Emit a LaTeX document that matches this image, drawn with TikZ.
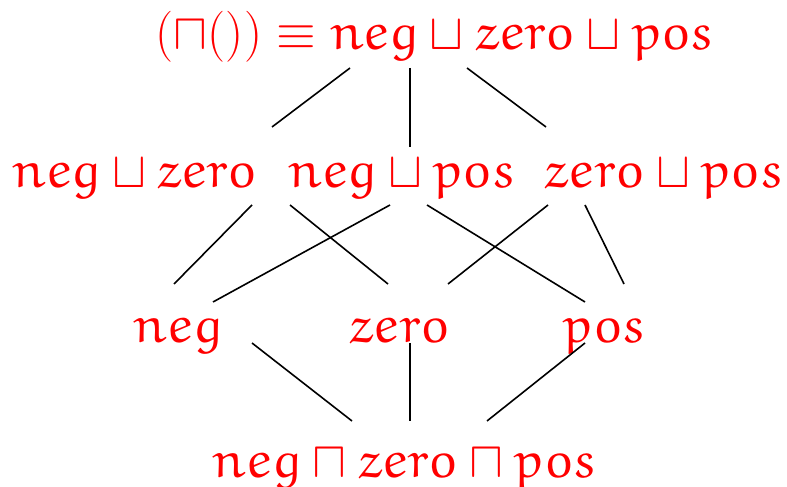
\RequirePackage{fix-cm}
\documentclass[tikz,border=0pt]{standalone}
\usepackage{amsmath}
\usepackage{amssymb}
\usepackage{tikz}
\usetikzlibrary{calc}
\DeclareMathAlphabet{\mathew}{U}{eur}{m}{n}
\newcommand{\lneg}{\mathew{neg}}
\newcommand{\lzero}{\mathew{zero}}
\newcommand{\lpos}{\mathew{pos}}

\begin{document}
\begin{tikzpicture}[
    x=1pt, y=1pt,
    elem/.style={anchor=base, inner sep=0pt, text=red,
                 font=\fontsize{51}{59}\selectfont},
    edge/.style={line width=1.6pt}
]
\useasboundingbox (0,0) rectangle (787,487);
% lattice elements
\node[elem] (top) at (435,437) {$(\sqcap()) \equiv \lneg \sqcup \lzero \sqcup \lpos$};
\node[elem] (nz) at (135,299) {$\lneg \sqcup \lzero$};
\node[elem] (np) at (402,299) {$\lneg \sqcup \lpos$};
\node[elem] (zp) at (664,299) {$\lzero \sqcup \lpos$};
\node[elem] (neg) at (178,144) {$\lneg$};
\node[elem] (zero) at (400,144) {$\lzero$};
\node[elem] (pos) at (605,144) {$\lpos$};
\node[elem] (bot) at (405,9) {$\lneg \sqcap \lzero \sqcap \lpos$};
% order relation
\draw[edge] ($(top.base)+(-85,-18)$) -- ($(nz.base)+(137,61)$);
\draw[edge] ($(top.base)+(-25,-18)$) -- ($(np.base)+(8,41)$);
\draw[edge] ($(top.base)+(32,-18)$) -- ($(zp.base)+(-118,61)$);
\draw[edge] ($(nz.base)+(117,-17)$) -- ($(neg.base)+(-4,59)$);
\draw[edge] ($(nz.base)+(155,-17)$) -- ($(zero.base)+(-12,59)$);
\draw[edge] ($(np.base)+(-12,-17)$) -- ($(neg.base)+(35,41)$);
\draw[edge] ($(np.base)+(25,-17)$) -- ($(pos.base)+(-20,41)$);
\draw[edge] ($(zp.base)+(-116,-17)$) -- ($(zero.base)+(48,59)$);
\draw[edge] ($(zp.base)+(-79,-17)$) -- ($(pos.base)+(19,59)$);
\draw[edge] ($(neg.base)+(74,0)$) -- ($(bot.base)+(-53,57)$);
\draw[edge] ($(zero.base)+(10,0)$) -- ($(bot.base)+(5,57)$);
\draw[edge] ($(pos.base)+(-20,0)$) -- ($(bot.base)+(82,57)$);
\end{tikzpicture}
\end{document}
